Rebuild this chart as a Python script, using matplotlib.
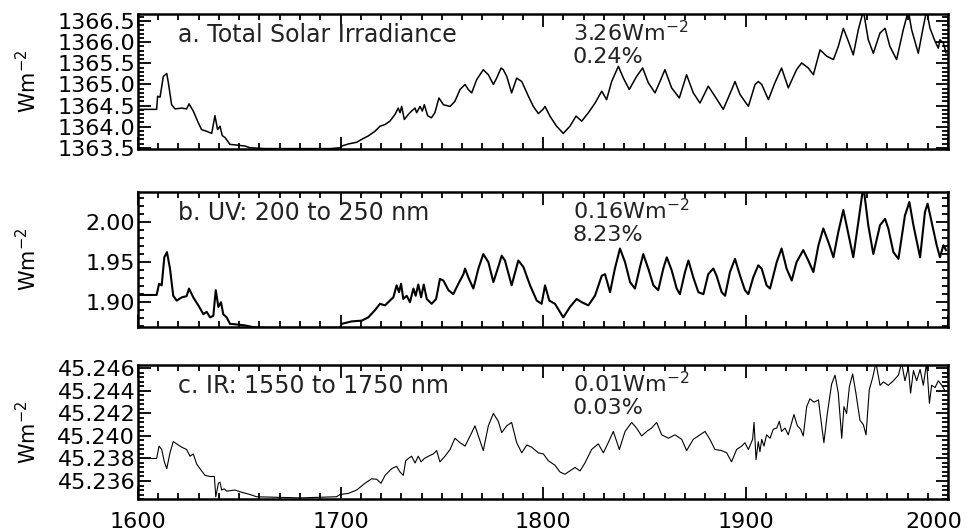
import matplotlib
matplotlib.use("Agg")
import matplotlib.pyplot as plt
from matplotlib.ticker import MultipleLocator, FormatStrFormatter
from matplotlib.transforms import ScaledTranslation

# values (year, W m-2)
tsi_year = [1600, 1609.2, 1609.7, 1610.9, 1612.5, 1614.2, 1615.0, 1616.6, 1618.3, 1621.6,
            1624.0, 1625.2, 1627.3, 1629.8, 1631.4, 1633.9, 1636.4, 1638.0, 1639.3, 1640.5,
            1641.6, 1643.0, 1645.4, 1649.5, 1652.8, 1655.3, 1663.0, 1695.0, 1699.8, 1700.6,
            1703.9, 1708.0, 1710.5, 1713.7, 1717.0, 1719.5, 1722.0, 1724.4, 1726.9, 1728.5,
            1729.4, 1730.2, 1731.5, 1733.5, 1735.1, 1736.8, 1737.6, 1739.3, 1740.4, 1741.4,
            1743.0, 1744.9, 1746.6, 1748.6, 1750.8, 1754.1, 1756.5, 1759.0, 1761.5, 1763.1,
            1764.8, 1767.2, 1770.5, 1773.0, 1775.5, 1777.1, 1779.3, 1780.4, 1782.1, 1784.5,
            1787.0, 1789.5, 1792.8, 1795.2, 1797.7, 1800.0, 1801.0, 1803.4, 1806.7, 1810.0,
            1813.3, 1816.3, 1819.1, 1822.4, 1825.7, 1829.0, 1831.4, 1833.9, 1837.2, 1839.7,
            1842.6, 1846.2, 1849.2, 1852.0, 1855.3, 1858.1, 1860.2, 1863.5, 1867.3, 1870.9,
            1874.2, 1877.5, 1881.6, 1884.9, 1889.0, 1893.2, 1894.8, 1897.3, 1901.4, 1904.7,
            1906.3, 1908.0, 1911.3, 1914.5, 1917.8, 1921.1, 1925.2, 1927.7, 1931.0, 1933.5,
            1936.8, 1940.1, 1943.4, 1945.8, 1948.3, 1950.8, 1953.2, 1955.7, 1958.2, 1960.6,
            1963.1, 1966.4, 1968.9, 1971.3, 1974.6, 1977.9, 1980.4, 1982.0, 1985.3, 1987.8,
            1989.4, 1991.1, 1993.6, 1995.2, 1996.0, 1997.7, 1999.0]
tsi_val = [1364.41, 1364.41, 1364.72, 1364.70, 1365.19, 1365.26, 1365.04, 1364.52, 1364.42, 1364.44,
           1364.42, 1364.54, 1364.37, 1364.09, 1363.93, 1363.89, 1363.84, 1364.26, 1363.93, 1364.01,
           1363.79, 1363.74, 1363.58, 1363.56, 1363.54, 1363.50, 1363.48, 1363.48, 1363.50, 1363.54,
           1363.59, 1363.63, 1363.70, 1363.78, 1363.89, 1364.01, 1364.05, 1364.13, 1364.29, 1364.44,
           1364.33, 1364.48, 1364.17, 1364.29, 1364.37, 1364.44, 1364.33, 1364.48, 1364.37, 1364.52,
           1364.26, 1364.21, 1364.33, 1364.68, 1364.52, 1364.48, 1364.60, 1364.88, 1365.00, 1364.88,
           1364.80, 1365.11, 1365.35, 1365.23, 1365.00, 1365.15, 1365.39, 1365.35, 1365.19, 1364.80,
           1365.15, 1365.07, 1364.72, 1364.48, 1364.31, 1364.41, 1364.48, 1364.25, 1364.01, 1363.84,
           1364.01, 1364.25, 1364.13, 1364.33, 1364.56, 1364.84, 1364.64, 1365.07, 1365.43, 1365.15,
           1364.88, 1365.19, 1365.39, 1365.04, 1364.80, 1365.11, 1365.35, 1364.92, 1364.68, 1365.23,
           1364.80, 1364.56, 1364.96, 1364.72, 1364.41, 1364.88, 1365.07, 1364.76, 1364.48, 1365.00,
           1365.07, 1365.00, 1364.64, 1365.04, 1365.39, 1364.92, 1365.35, 1365.51, 1365.39, 1365.23,
           1365.82, 1365.67, 1365.59, 1365.90, 1366.33, 1366.02, 1365.70, 1366.30, 1366.75, 1366.06,
           1365.74, 1366.22, 1366.33, 1365.90, 1365.59, 1366.30, 1366.75, 1366.30, 1365.74, 1366.37,
           1366.75, 1366.33, 1366.02, 1365.86, 1366.06, 1365.98, 1365.75]

uv_year = [1600, 1609.2, 1610.4, 1611.7, 1613.0, 1614.3, 1615.8, 1617.4, 1619.1, 1621.6,
           1624.0, 1625.2, 1627.3, 1629.8, 1632.3, 1633.9, 1635.6, 1637.2, 1638.4, 1639.7,
           1641.0, 1642.1, 1643.8, 1645.4, 1649.5, 1652.8, 1657.0, 1663.0, 1695.0, 1699.8,
           1700.6, 1705.5, 1710.5, 1713.7, 1717.0, 1719.5, 1722.0, 1724.4, 1726.1, 1727.7,
           1728.9, 1729.9, 1731.0, 1732.7, 1734.3, 1736.0, 1737.1, 1738.4, 1739.8, 1741.1,
           1742.6, 1745.0, 1747.2, 1749.1, 1750.8, 1753.3, 1755.7, 1758.2, 1760.7, 1761.5,
           1763.1, 1765.6, 1768.1, 1770.5, 1773.0, 1775.5, 1777.9, 1779.6, 1781.2, 1784.5,
           1787.8, 1790.3, 1793.6, 1796.9, 1799.3, 1801.0, 1803.1, 1805.9, 1810.0, 1813.3,
           1816.6, 1819.1, 1822.4, 1825.7, 1829.0, 1830.6, 1833.1, 1835.5, 1838.0, 1840.5,
           1843.0, 1845.4, 1847.9, 1849.5, 1852.0, 1854.5, 1856.9, 1859.4, 1861.1, 1863.5,
           1866.0, 1867.6, 1870.1, 1871.8, 1874.2, 1876.7, 1879.2, 1881.6, 1884.1, 1885.7,
           1888.2, 1889.9, 1892.3, 1894.8, 1897.3, 1899.7, 1901.4, 1903.8, 1906.3, 1908.0,
           1910.4, 1912.1, 1915.4, 1917.8, 1920.3, 1922.8, 1925.2, 1928.5, 1931.0, 1933.5,
           1936.0, 1938.4, 1940.9, 1943.4, 1945.8, 1948.3, 1950.8, 1953.2, 1955.7, 1958.2,
           1960.6, 1963.1, 1966.4, 1968.9, 1970.5, 1973.0, 1975.5, 1978.7, 1980.9, 1982.9,
           1986.2, 1988.6, 1989.9, 1991.9, 1994.4, 1996.0, 1997.7, 1999.0]
uv_val = [1.909, 1.909, 1.923, 1.921, 1.956, 1.9625, 1.942, 1.908, 1.902, 1.906,
          1.9075, 1.917, 1.906, 1.896, 1.885, 1.888, 1.881, 1.883, 1.915, 1.894,
          1.900, 1.885, 1.881, 1.873, 1.872, 1.871, 1.8688, 1.868, 1.868, 1.868,
          1.873, 1.876, 1.877, 1.881, 1.890, 1.898, 1.896, 1.902, 1.906, 1.921,
          1.9125, 1.923, 1.904, 1.908, 1.900, 1.917, 1.908, 1.922, 1.906, 1.922,
          1.904, 1.898, 1.904, 1.929, 1.927, 1.915, 1.910, 1.923, 1.935, 1.942,
          1.931, 1.917, 1.942, 1.960, 1.950, 1.925, 1.944, 1.958, 1.952, 1.921,
          1.952, 1.944, 1.921, 1.902, 1.898, 1.921, 1.902, 1.898, 1.881, 1.894,
          1.904, 1.900, 1.896, 1.9083, 1.933, 1.935, 1.9125, 1.942, 1.967, 1.950,
          1.925, 1.917, 1.944, 1.960, 1.9417, 1.921, 1.915, 1.942, 1.956, 1.940,
          1.917, 1.910, 1.9375, 1.952, 1.931, 1.9125, 1.910, 1.935, 1.942, 1.933,
          1.9125, 1.908, 1.9375, 1.954, 1.933, 1.915, 1.910, 1.931, 1.946, 1.9417,
          1.921, 1.917, 1.950, 1.967, 1.9417, 1.927, 1.950, 1.965, 1.952, 1.9375,
          1.971, 1.992, 1.975, 1.956, 1.9875, 2.015, 1.985, 1.956, 2.000, 2.045,
          1.996, 1.960, 1.996, 2.004, 1.992, 1.9625, 1.954, 2.008, 2.025, 1.996,
          1.956, 2.0125, 2.023, 2.000, 1.971, 1.956, 1.971, 1.965]

ir_year = [1600, 1609.2, 1610.4, 1611.7, 1613.0, 1614.2, 1615.8, 1617.4, 1619.1, 1621.6,
           1624.0, 1625.7, 1627.3, 1629.0, 1631.4, 1633.1, 1635.6, 1637.7, 1638.4, 1639.7,
           1640.5, 1641.3, 1642.6, 1643.8, 1647.9, 1651.2, 1655.3, 1658.6, 1680.0, 1698.0,
           1699.8, 1703.9, 1708.0, 1712.1, 1715.4, 1717.9, 1720.0, 1722.0, 1725.3, 1727.7,
           1729.4, 1731.0, 1732.2, 1733.5, 1735.1, 1736.8, 1738.4, 1739.8, 1741.4, 1743.4,
           1745.8, 1747.5, 1749.1, 1751.6, 1754.1, 1756.5, 1759.0, 1761.5, 1764.0, 1766.4,
           1768.1, 1770.5, 1773.0, 1775.5, 1777.9, 1779.6, 1782.1, 1784.5, 1787.0, 1789.5,
           1792.0, 1794.4, 1797.7, 1800.2, 1802.6, 1805.9, 1808.4, 1810.8, 1813.3, 1815.8,
           1818.3, 1820.7, 1824.0, 1827.3, 1829.8, 1832.2, 1834.7, 1837.7, 1840.5, 1843.8,
           1846.2, 1848.7, 1851.2, 1853.6, 1856.1, 1858.6, 1861.9, 1865.2, 1868.5, 1870.9,
           1874.2, 1877.5, 1880.0, 1882.4, 1884.9, 1888.2, 1890.7, 1893.1, 1895.6, 1898.1,
           1899.7, 1901.4, 1903.5, 1904.2, 1905.2, 1906.3, 1907.1, 1908.0, 1909.1, 1910.4,
           1912.1, 1913.7, 1915.4, 1916.7, 1917.8, 1919.5, 1921.1, 1922.8, 1923.9, 1925.6,
           1927.2, 1928.5, 1930.2, 1931.8, 1933.8, 1936.0, 1937.6, 1938.7, 1940.4, 1942.5,
           1944.2, 1945.8, 1947.5, 1948.6, 1949.9, 1951.3, 1952.9, 1954.5, 1956.5, 1958.2,
           1959.5, 1961.1, 1962.8, 1964.4, 1966.4, 1968.1, 1970.5, 1973.0, 1975.5, 1977.1,
           1978.7, 1980.4, 1981.5, 1982.9, 1984.5, 1986.2, 1987.8, 1989.4, 1990.8, 1991.9,
           1993.6, 1995.2, 1996.9, 1998.5]
ir_val = [45.2380, 45.2380, 45.2391, 45.2388, 45.2377, 45.2371, 45.2385, 45.2395, 45.2393, 45.2390,
          45.2388, 45.2382, 45.2384, 45.2375, 45.2369, 45.2365, 45.2364, 45.2364, 45.2346, 45.2358,
          45.2359, 45.2352, 45.2353, 45.2351, 45.2352, 45.2350, 45.2348, 45.2346, 45.2345, 45.2346,
          45.2348, 45.2349, 45.2352, 45.2358, 45.2362, 45.23615, 45.2358, 45.2365, 45.2371, 45.2373,
          45.2368, 45.2365, 45.2378, 45.2380, 45.2382, 45.2376, 45.2382, 45.2377, 45.2380, 45.2382,
          45.2384, 45.2387, 45.2377, 45.2382, 45.2388, 45.2398, 45.2394, 45.2391, 45.2400, 45.2409,
          45.2400, 45.2387, 45.2409, 45.2420, 45.2413, 45.2403, 45.2409, 45.2412, 45.2394, 45.2385,
          45.2392, 45.2390, 45.2385, 45.2384, 45.2378, 45.2374, 45.2368, 45.2366, 45.2369, 45.2372,
          45.2369, 45.2376, 45.2388, 45.2393, 45.2385, 45.2394, 45.2404, 45.2388, 45.2404, 45.2412,
          45.2407, 45.2400, 45.2404, 45.2407, 45.2412, 45.2401, 45.2398, 45.2401, 45.2397, 45.2387,
          45.2397, 45.2401, 45.2404, 45.2397, 45.2388, 45.2387, 45.2385, 45.2377, 45.2388, 45.2391,
          45.2394, 45.2388, 45.2397, 45.2412, 45.2379, 45.2395, 45.2386, 45.2397, 45.2391, 45.2401,
          45.2398, 45.2406, 45.2407, 45.2413, 45.2404, 45.2407, 45.2401, 45.2412, 45.2419, 45.2409,
          45.2406, 45.2400, 45.2426, 45.2433, 45.2430, 45.2432, 45.2409, 45.2394, 45.2420, 45.2446,
          45.2454, 45.2438, 45.2398, 45.2426, 45.2420, 45.2444, 45.2455, 45.2438, 45.2414, 45.2410,
          45.2401, 45.2441, 45.2452, 45.2465, 45.2445, 45.2448, 45.2445, 45.2449, 45.2454, 45.2465,
          45.2449, 45.2461, 45.2438, 45.2458, 45.2449, 45.2459, 45.2445, 45.2465, 45.2429, 45.2445,
          45.2443, 45.2449, 45.2445, 45.2440]

panel_labels = ["a. Total Solar Irradiance", "b. UV: 200 to 250 nm", "c. IR: 1550 to 1750 nm"]
change_abs = ["3.26Wm$^{-2}$", "0.16Wm$^{-2}$", "0.01Wm$^{-2}$"]
change_pct = ["0.24%", "8.23%", "0.03%"]

plt.rcParams["font.family"] = "DejaVu Sans"

fig = plt.figure(figsize=(9.67, 5.32), dpi=100)

left, width = 0.1427, 0.8377
specs = [
    # bottom, height, ylim, major, minor, fmt, linewidth
    (0.7199, 0.2538, (1363.47, 1366.67), 0.5, 0.1, "%.1f", 1.1),
    (0.3853, 0.2538, (1.869, 2.0375), 0.05, 0.01, "%.2f", 1.5),
    (0.0620, 0.2519, (45.2344, 45.2463), 0.002, 0.0004, "%.3f", 0.8),
]
series = [(tsi_year, tsi_val), (uv_year, uv_val), (ir_year, ir_val)]

for i, (spec, (yr, val)) in enumerate(zip(specs, series)):
    bottom, height, ylim, major, minor, fmt, lw = spec
    ax = fig.add_axes([left, bottom, width, height])
    ax.plot(yr, val, color="black", lw=lw)
    ax.set_xlim(1600, 2000)
    ax.set_ylim(*ylim)

    ax.xaxis.set_major_locator(MultipleLocator(100))
    ax.xaxis.set_minor_locator(MultipleLocator(10))
    ax.yaxis.set_major_locator(MultipleLocator(major))
    ax.yaxis.set_minor_locator(MultipleLocator(minor))
    ax.yaxis.set_major_formatter(FormatStrFormatter(fmt))

    ax.tick_params(which="both", direction="in", top=True, right=True, width=1.3)
    ax.tick_params(which="major", length=9)
    ax.tick_params(which="minor", length=4.5)
    ax.tick_params(axis="y", labelsize=16, pad=2)
    ax.tick_params(axis="x", labelsize=16, pad=9)
    if i < 2:
        ax.tick_params(axis="x", labelbottom=False)
    for s in ax.spines.values():
        s.set_linewidth(1.8)

    ax.set_ylabel("Wm$^{-2}$", fontsize=15)
    ax.yaxis.set_label_coords(-0.121, 0.5)

    ax.text(0.049, 0.845, panel_labels[i], transform=ax.transAxes,
            fontsize=17, va="center", ha="left", color="#222222")
    ax.text(0.537, 0.86, change_abs[i], transform=ax.transAxes,
            fontsize=16, va="center", ha="left", color="#222222")
    ax.text(0.537, 0.68, change_pct[i], transform=ax.transAxes,
            fontsize=16, va="center", ha="left", color="#222222")

# keep the last year label inside the figure, as in the original
fig.canvas.draw()
for lab in ax.get_xticklabels():
    if lab.get_text() == "2000":
        lab.set_transform(lab.get_transform() + ScaledTranslation(-10 / 72, 0, fig.dpi_scale_trans))

fig.savefig("out.png", dpi=100)
